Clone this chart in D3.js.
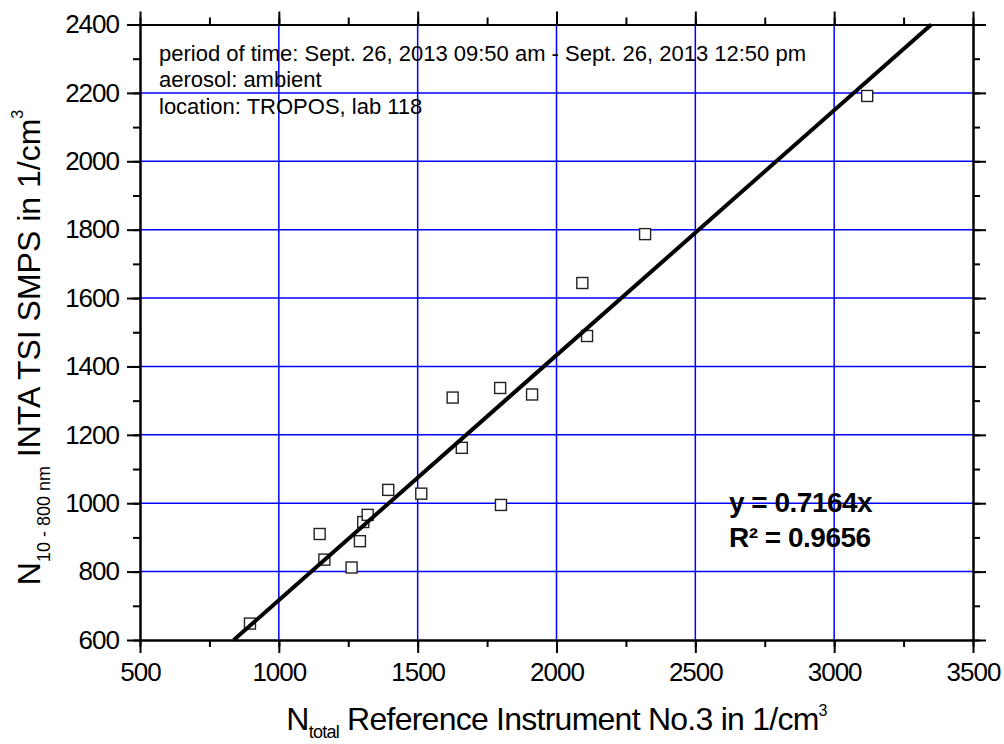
<!DOCTYPE html>
<html>
<head>
<meta charset="utf-8">
<script src="https://cdn.jsdelivr.net/npm/d3@7"></script>
<style>
  body { margin: 0; background: #fff; }
  svg { display: block; font-family: "Liberation Sans", Arial, sans-serif; }
</style>
</head>
<body>
<div id="chart"></div>
<script>
// donnees
const refN  = [896, 1147, 1164, 1262, 1292, 1304, 1320, 1394, 1513, 1626, 1659, 1797, 1800, 1912, 2093, 2110, 2319, 3119];
const smpsN = [648, 910, 835, 812, 889, 945, 966, 1039, 1028, 1309, 1162, 1337, 995, 1318, 1644, 1489, 1787, 2191];
const xTicks = [500, 1000, 1500, 2000, 2500, 3000, 3500];
const yTicks = [600, 800, 1000, 1200, 1400, 1600, 1800, 2000, 2200, 2400];
const slope = 0.7164;
const infoLines = [
  "period of time: Sept. 26, 2013 09:50 am - Sept. 26, 2013 12:50 pm",
  "aerosol: ambient",
  "location: TROPOS, lab 118"
];
const fitLines = ["y = 0.7164x", "R\u00b2 = 0.9656"];

const width = 1004, height = 744;
const margin = { top: 24.5, right: 31, bottom: 104, left: 140 };

const svg = d3.select("#chart").append("svg")
  .attr("width", width)
  .attr("height", height);

const x = d3.scaleLinear().domain([500, 3500]).range([margin.left, width - margin.right]);
const y = d3.scaleLinear().domain([600, 2400]).range([height - margin.bottom, margin.top]);

const minorX = d3.range(500, 3501, 250);
const minorY = d3.range(600, 2401, 100);

// grille bleue
svg.append("g").selectAll("line")
  .data(xTicks.slice(1, -1))
  .join("line")
  .attr("x1", d => x(d)).attr("x2", d => x(d))
  .attr("y1", y(600)).attr("y2", y(2400))
  .attr("stroke", "#0000ff").attr("stroke-width", 1.5);

svg.append("g").selectAll("line")
  .data(yTicks.slice(1, -1))
  .join("line")
  .attr("y1", d => y(d)).attr("y2", d => y(d))
  .attr("x1", x(500)).attr("x2", x(3500))
  .attr("stroke", "#0000ff").attr("stroke-width", 1.5);

// points
svg.append("g").selectAll("rect")
  .data(refN.map((d, i) => [d, smpsN[i]]))
  .join("rect")
  .attr("x", d => x(d[0]) - 5.5)
  .attr("y", d => y(d[1]) - 5.5)
  .attr("width", 11).attr("height", 11)
  .attr("fill", "#fff")
  .attr("stroke", "#222")
  .attr("stroke-width", 1.4);

// droite de regression
svg.append("line")
  .attr("x1", x(600 / slope)).attr("y1", y(600))
  .attr("x2", x(2400 / slope)).attr("y2", y(2400))
  .attr("stroke", "#000").attr("stroke-width", 4);

// axes
function styleAxis(g) {
  g.selectAll("path").attr("stroke", "#000").attr("stroke-width", 2);
  g.selectAll("line").attr("stroke", "#000").attr("stroke-width", 2);
  g.selectAll("text")
    .attr("fill", "#000")
    .style("font-size", "26px")
    .style("letter-spacing", "-1px");
}

const bottom = height - margin.bottom, right = width - margin.right;

svg.append("g").attr("transform", `translate(0,${bottom})`)
  .call(d3.axisBottom(x).tickValues(minorX).tickSize(7).tickFormat("").tickSizeOuter(0))
  .call(styleAxis);
svg.append("g").attr("transform", `translate(0,${bottom})`)
  .call(d3.axisBottom(x).tickValues(xTicks).tickSize(13).tickPadding(10).tickFormat(d3.format("d")).tickSizeOuter(0))
  .call(styleAxis);

svg.append("g").attr("transform", `translate(0,${margin.top})`)
  .call(d3.axisTop(x).tickValues(minorX).tickSize(7).tickFormat("").tickSizeOuter(0))
  .call(styleAxis);
svg.append("g").attr("transform", `translate(0,${margin.top})`)
  .call(d3.axisTop(x).tickValues(xTicks).tickSize(13).tickFormat("").tickSizeOuter(0))
  .call(styleAxis);

svg.append("g").attr("transform", `translate(${margin.left},0)`)
  .call(d3.axisLeft(y).tickValues(minorY).tickSize(7).tickFormat("").tickSizeOuter(0))
  .call(styleAxis);
svg.append("g").attr("transform", `translate(${margin.left},0)`)
  .call(d3.axisLeft(y).tickValues(yTicks).tickSize(13).tickPadding(8).tickFormat(d3.format("d")).tickSizeOuter(0))
  .call(styleAxis);

svg.append("g").attr("transform", `translate(${right},0)`)
  .call(d3.axisRight(y).tickValues(minorY).tickSize(7).tickFormat("").tickSizeOuter(0))
  .call(styleAxis);
svg.append("g").attr("transform", `translate(${right},0)`)
  .call(d3.axisRight(y).tickValues(yTicks).tickSize(13).tickFormat("").tickSizeOuter(0))
  .call(styleAxis);

// titres des axes
const xTitle = svg.append("text")
  .attr("x", (margin.left + right) / 2)
  .attr("y", 730)
  .attr("text-anchor", "middle")
  .style("font-size", "32px")
  .style("letter-spacing", "-0.75px");
xTitle.append("tspan").text("N");
xTitle.append("tspan").attr("dy", 8).style("font-size", "18px").text("total");
xTitle.append("tspan").attr("dy", -8).text(" Reference Instrument No.3 in 1/cm");
xTitle.append("tspan").attr("dy", -14).style("font-size", "16px").text("3");

const yTitle = svg.append("text")
  .attr("transform", "translate(40,347.5) rotate(-90)")
  .attr("text-anchor", "middle")
  .style("font-size", "32px");
yTitle.append("tspan").text("N");
yTitle.append("tspan").attr("dy", 10).style("font-size", "18px").text("10 - 800 nm");
yTitle.append("tspan").attr("dy", -10).text(" INTA TSI SMPS in 1/cm");
yTitle.append("tspan").attr("dy", -17).style("font-size", "16px").text("3");

// texte d'information
svg.append("g").selectAll("text")
  .data(infoLines)
  .join("text")
  .attr("x", 159)
  .attr("y", (d, i) => 61 + i * 26.3)
  .style("font-size", "22px")
  .text(d => d);

// equation
svg.append("g").selectAll("text")
  .data(fitLines)
  .join("text")
  .attr("x", 729)
  .attr("y", (d, i) => 511.7 + i * 35.6)
  .style("font-size", "28px")
  .style("font-weight", "bold")
  .style("letter-spacing", "-0.5px")
  .text(d => d);
</script>
</body>
</html>
